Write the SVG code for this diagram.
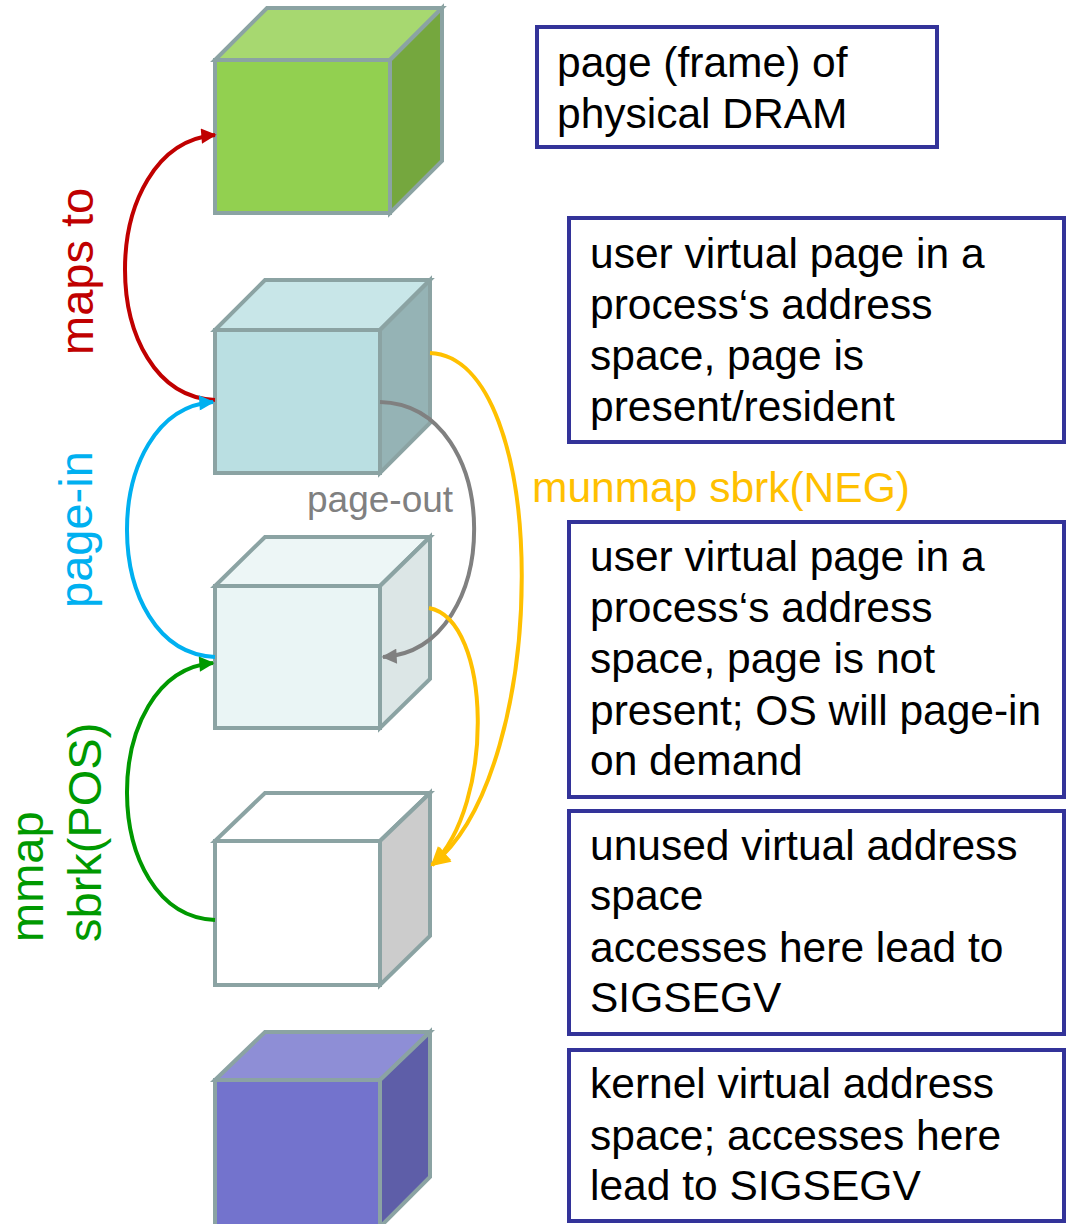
<svg xmlns="http://www.w3.org/2000/svg" width="1069" height="1224" viewBox="0 0 1069 1224">
<style>
.edge{stroke:#8BA3A3;stroke-width:4;stroke-linejoin:miter}
.box{fill:#fff;stroke:#333399;stroke-width:4}
.t{font-family:"Liberation Sans",Arial,sans-serif;font-size:42.5px;fill:#000}
.lbl{font-family:"Liberation Sans",Arial,sans-serif;font-size:47px}
.c{fill:none;stroke-width:4}
</style>
<defs>
<marker id="aRed" viewBox="0 0 10 10" refX="9" refY="5" markerWidth="4.2" markerHeight="3.8" orient="auto" markerUnits="strokeWidth"><path d="M0,0 L10,5 L0,10 z" fill="#C00000"/></marker>
<marker id="aBlue" viewBox="0 0 10 10" refX="9" refY="5" markerWidth="4.2" markerHeight="3.8" orient="auto" markerUnits="strokeWidth"><path d="M0,0 L10,5 L0,10 z" fill="#00B0F0"/></marker>
<marker id="aGreen" viewBox="0 0 10 10" refX="9" refY="5" markerWidth="4.2" markerHeight="3.8" orient="auto" markerUnits="strokeWidth"><path d="M0,0 L10,5 L0,10 z" fill="#009900"/></marker>
<marker id="aGray" viewBox="0 0 10 10" refX="9" refY="5" markerWidth="4.2" markerHeight="3.8" orient="auto" markerUnits="strokeWidth"><path d="M0,0 L10,5 L0,10 z" fill="#808080"/></marker>
<marker id="aOrange" viewBox="0 0 10 10" refX="9" refY="5" markerWidth="5.4" markerHeight="4.8" orient="auto" markerUnits="strokeWidth"><path d="M0,0 L10,5 L0,10 z" fill="#FFC000"/></marker>
</defs>

<g id="cube-dram">
<polygon class="edge" points="215,60 267,8 442,8 390,60" fill="#A7D870"/>
<polygon class="edge" points="390,60 442,8 442,161 390,213" fill="#75A73E"/>
<rect class="edge" x="215" y="60" width="175" height="153" fill="#92D050"/>
</g>
<g id="cube-resident">
<polygon class="edge" points="215,330 265,280 430,280 380,330" fill="#C8E6E8"/>
<polygon class="edge" points="380,330 430,280 430,423 380,473" fill="#95B3B5"/>
<rect class="edge" x="215" y="330" width="165" height="143" fill="#BADFE2"/>
</g>
<g id="cube-notpresent">
<polygon class="edge" points="215,586 265,537 430,537 380,586" fill="#EDF6F6"/>
<polygon class="edge" points="380,586 430,537 430,679 380,728" fill="#DCE6E6"/>
<rect class="edge" x="215" y="586" width="165" height="142" fill="#EAF5F5"/>
</g>
<g id="cube-unused">
<polygon class="edge" points="215,841 265,793 430,793 380,841" fill="#FFFFFF"/>
<polygon class="edge" points="380,841 430,793 430,936 380,985" fill="#CCCCCC"/>
<rect class="edge" x="215" y="841" width="165" height="144" fill="#FFFFFF"/>
</g>
<g id="cube-kernel">
<polygon class="edge" points="215,1080 265,1032 430,1032 380,1080" fill="#8E8ED6"/>
<polygon class="edge" points="380,1080 430,1032 430,1177 380,1227" fill="#5E5EA8"/>
<rect class="edge" x="215" y="1080" width="165" height="147" fill="#7373CD"/>
</g>

<g id="connectors">
<path class="c" stroke="#C00000" d="M215,400 C95,395 95,145 215,135" marker-end="url(#aRed)"/>
<path class="c" stroke="#00B0F0" d="M215,657 C98,652 98,410 213,402" marker-end="url(#aBlue)"/>
<path class="c" stroke="#009900" d="M215,920 C98,915 98,672 213,663" marker-end="url(#aGreen)"/>
<path class="c" stroke="#808080" d="M380,402 C505,405 505,650 383,657" marker-end="url(#aGray)"/>
<path class="c" stroke="#FFC000" stroke-width="3" d="M430,353 C552,358 552,770 432,865" marker-end="url(#aOrange)"/>
<path class="c" stroke="#FFC000" stroke-width="3" d="M429,608 C492,620 495,805 432,865" marker-end="url(#aOrange)"/>
</g>

<g id="labels">
<text class="lbl" fill="#C00000" transform="translate(93,355) rotate(-90)">maps to</text>
<text class="lbl" fill="#00B0F0" transform="translate(92,608) rotate(-90)">page-in</text>
<text class="lbl" fill="#009900" transform="translate(43,942) rotate(-90)">mmap</text>
<text class="lbl" fill="#009900" transform="translate(101,942) rotate(-90)">sbrk(POS)</text>
<text font-family="Liberation Sans,Arial,sans-serif" font-size="37" fill="#808080" x="307" y="512">page-out</text>
<text class="t" style="fill:#FFC000" x="532" y="502">munmap sbrk(NEG)</text>
</g>

<g id="box-dram">
<rect class="box" x="537" y="27" width="400" height="120"/>
<text class="t" x="557" y="77">page (frame) of</text>
<text class="t" x="557" y="128">physical DRAM</text>
</g>
<g id="box-resident">
<rect class="box" x="569" y="218" width="495" height="224"/>
<text class="t" x="590" y="268">user virtual page in a</text>
<text class="t" x="590" y="319">process‘s address</text>
<text class="t" x="590" y="370">space, page is</text>
<text class="t" x="590" y="421">present/resident</text>
</g>
<g id="box-notpresent">
<rect class="box" x="569" y="522" width="495" height="275"/>
<text class="t" x="590" y="571">user virtual page in a</text>
<text class="t" x="590" y="622">process‘s address</text>
<text class="t" x="590" y="673">space, page is not</text>
<text class="t" x="590" y="725">present; OS will page-in</text>
<text class="t" x="590" y="775">on demand</text>
</g>
<g id="box-unused">
<rect class="box" x="569" y="811" width="495" height="223"/>
<text class="t" x="590" y="860">unused virtual address</text>
<text class="t" x="590" y="910">space</text>
<text class="t" x="590" y="962">accesses here lead to</text>
<text class="t" x="590" y="1012">SIGSEGV</text>
</g>
<g id="box-kernel">
<rect class="box" x="569" y="1050" width="495" height="171"/>
<text class="t" x="590" y="1098">kernel virtual address</text>
<text class="t" x="590" y="1150">space; accesses here</text>
<text class="t" x="590" y="1200">lead to SIGSEGV</text>
</g>
</svg>
